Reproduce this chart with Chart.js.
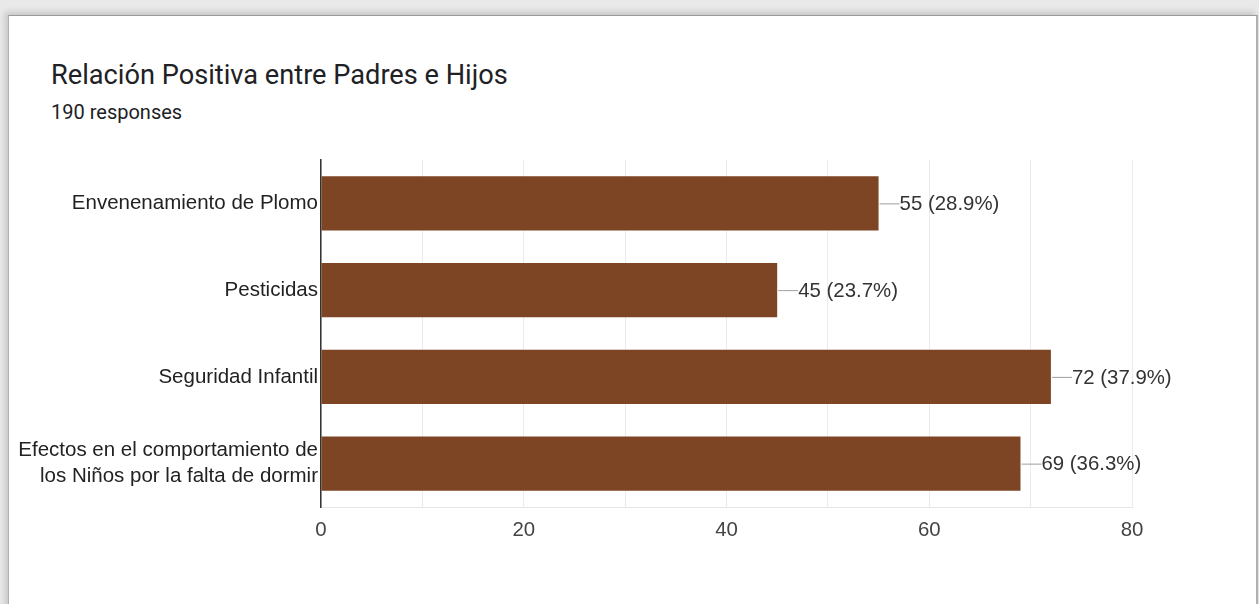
<!DOCTYPE html>
<html><head><meta charset="utf-8">
<script src="https://cdn.jsdelivr.net/npm/chart.js@4"></script>
<style>
html,body{margin:0;padding:0;width:1259px;height:604px;overflow:hidden;background:#e9e9e9;}
#card{position:absolute;left:8px;top:15px;width:1247px;height:600px;background:#fff;border-top:1px solid #9a9a9a;border-left:1px solid #b0b0b0;border-right:2px solid #b0b0b0;box-shadow:-3px -3px 6px rgba(0,0,0,0.15);}
#title{position:absolute;left:51px;top:58px;font-family:Roboto,sans-serif;font-size:27.2px;line-height:34px;color:#202124;white-space:nowrap;}
#sub{position:absolute;left:51px;top:99px;font-family:Roboto,sans-serif;font-size:20px;line-height:26px;color:#202124;}
canvas{position:absolute;left:0;top:0;}
</style></head><body>
<div id="card"></div>
<div id="title">Relación Positiva entre Padres e Hijos</div>
<div id="sub">190 responses</div>
<canvas id="c" width="1259" height="604"></canvas>
<script>
const categories = [
  "Envenenamiento de Plomo",
  "Pesticidas",
  "Seguridad Infantil",
  ["Efectos en el comportamiento de", "los Niños por la falta de dormir"]
];
const values = [55, 45, 72, 69];
const totalResponses = 190;
const xTicks = [0, 20, 40, 60, 80];

const leader = {
  id: 'leader',
  afterDatasetsDraw(chart) {
    const ctx = chart.ctx;
    const meta = chart.getDatasetMeta(0);
    ctx.save();
    ctx.font = '20.4px "Liberation Sans", Arial, sans-serif';
    ctx.textBaseline = 'middle';
    meta.data.forEach((bar, i) => {
      const v = values[i];
      const pct = (v / totalResponses * 100).toFixed(1);
      const x = bar.x, y = bar.y;
      ctx.strokeStyle = '#9e9e9e';
      ctx.lineWidth = 1;
      ctx.beginPath();
      ctx.moveTo(x + 1, y + 0.5);
      ctx.lineTo(x + 21, y + 0.5);
      ctx.stroke();
      ctx.fillStyle = '#333333';
      ctx.fillText(v + ' (' + pct + '%)', x + 21, y + 1);
    });
    ctx.restore();
  }
};

new Chart(document.getElementById('c'), {
  type: 'bar',
  data: {
    labels: categories,
    datasets: [{
      data: values,
      backgroundColor: '#7e4525',
      borderWidth: 0,
      categoryPercentage: 0.625,
      barPercentage: 1
    }]
  },
  options: {
    indexAxis: 'y',
    responsive: false,
    animation: false,
    layout: { padding: { left: 0, right: 127, top: 160, bottom: 57 } },
    plugins: { legend: { display: false }, tooltip: { enabled: false } },
    scales: {
      x: {
        min: 0, max: 80,
        afterFit(s) { s.height = 40; },
        afterBuildTicks(s) { s.ticks = [0,10,20,30,40,50,60,70,80].map(v => ({ value: v })); },
        grid: { color: '#ebebeb', lineWidth: 1, drawTicks: false },
        border: { color: '#e6e6e6', width: 1 },
        ticks: {
          padding: 11,
          color: '#444444',
          font: { family: '"Liberation Sans", Arial, sans-serif', size: 20.4 },
          callback: (v) => xTicks.includes(v) ? String(v) : ''
        }
      },
      y: {
        afterFit(s) { s.width = 321; },
        grid: { display: false, drawTicks: false },
        border: { color: '#333333', width: 1.5 },
        ticks: {
          padding: 3,
          color: '#222222',
          font: { family: '"Liberation Sans", Arial, sans-serif', size: 20.5, lineHeight: 1.28 }
        }
      }
    }
  },
  plugins: [leader]
});
</script>
</body></html>
